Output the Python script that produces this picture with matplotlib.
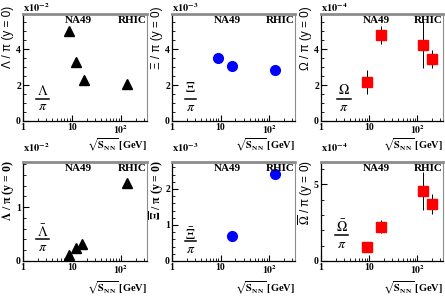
import numpy as np
import matplotlib
matplotlib.use("Agg")
import matplotlib.pyplot as plt
from matplotlib.ticker import FixedLocator, MultipleLocator, NullFormatter, FuncFormatter

plt.rcParams['mathtext.fontset'] = 'stix'
plt.rcParams['font.family'] = ['Liberation Serif', 'DejaVu Serif']

# ---- data (ratios at y = 0) ----
lam_x = [8.8, 12.3, 17.3, 130]
lam_y = [5.0, 3.3, 2.27, 2.05]            # x10^-2

xi_x = [8.8, 17.3, 130]
xi_y = [3.50, 3.08, 2.84]                 # x10^-3

om_x = [8.8, 17.3, 130, 200]
om_y = [2.19, 4.76, 4.22, 3.43]           # x10^-4
om_err = [0.67, 0.5, 1.27, 0.5]

alam_x = [8.8, 12.3, 16.0, 130]
alam_y = [0.11, 0.24, 0.31, 1.45]         # x10^-2

axi_x = [17.3, 130]
axi_y = [0.69, 2.41]                      # x10^-3

aom_x = [8.8, 17.3, 130, 200]
aom_y = [0.9, 2.24, 4.57, 3.7]            # x10^-4
aom_err = [0.25, 0.4, 1.24, 0.67]

W, H = 445, 296
fig = plt.figure(figsize=(W / 100, H / 100), dpi=100)

lefts = [23, 172, 321]
widths = [124, 123, 122]


def make_axes(col, top, bottom):
    ax = fig.add_axes([lefts[col] / W, 1 - bottom / H, widths[col] / W, (bottom - top) / H])
    ax.set_xscale('log')
    ax.set_xlim(1, 340)
    ax.xaxis.set_major_locator(FixedLocator([1, 10, 100]))
    ax.xaxis.set_minor_locator(FixedLocator([m * d for d in [1, 10, 100] for m in range(2, 10)]))
    ax.xaxis.set_minor_formatter(NullFormatter())
    ax.xaxis.set_major_formatter(FuncFormatter(
        lambda v, p: {1: '1', 10: '10', 100: r'$\mathbf{10^{2}}$'}.get(int(round(v)), '')))
    ax.tick_params(which='both', direction='in', top=False, right=False,
                   labelsize=7, pad=1.5)
    ax.tick_params(which='major', length=4, width=0.8)
    ax.tick_params(which='minor', length=2, width=0.6)
    ax.spines['top'].set_color('#8c8c8c')
    ax.spines['top'].set_linewidth(2)
    ax.spines['right'].set_color('#8c8c8c')
    ax.spines['right'].set_linewidth(0.8)
    ax.spines['left'].set_linewidth(0.9)
    ax.spines['bottom'].set_linewidth(0.9)
    ax.text(0.45, 0.935, 'NA49', transform=ax.transAxes, ha='center', va='center',
            fontsize=8, fontweight='bold')
    ax.text(0.995, 0.935, 'RHIC', transform=ax.transAxes, ha='right', va='center',
            fontsize=8, fontweight='bold')
    return ax


def fraction(ax, num, xc, ynum, ybar, yden, half=0.055):
    ax.text(xc, ynum, num, transform=ax.transAxes, ha='center', va='center', fontsize=10)
    ax.plot([xc - half, xc + half], [ybar, ybar], transform=ax.transAxes,
            color='black', lw=1.1)
    ax.text(xc, yden, r'$\pi$', transform=ax.transAxes, ha='center', va='center', fontsize=10)


def decorations(col, axtop, factor, ylabel, ybase_factor, ybase_xlabel, ylab_kw):
    x0 = lefts[col] / W
    fig.text(x0, ybase_factor, factor, ha='left', va='baseline', fontsize=7.5)
    fig.text((lefts[col] + widths[col]) / W, ybase_xlabel, r'$\mathbf{\sqrt{S_{NN}}}$ [GeV]',
             ha='right', va='baseline', fontsize=7.5, fontweight='bold')
    fig.text((lefts[col] - 15) / W, 1 - axtop / H, ylabel, rotation=90,
             ha='center', va='top', **ylab_kw)


sans = dict(family='Liberation Sans', fontsize=8.5)
serifb = dict(fontsize=8.5, fontweight='bold')

# ---- top row ----
top, bot = 14, 121
ax1 = make_axes(0, top, bot)
ax1.plot(lam_x, lam_y, '^', color='black', ms=6.5)
ax1.set_ylim(0, 5.95)
ax1.yaxis.set_major_locator(MultipleLocator(2))
ax1.yaxis.set_minor_locator(MultipleLocator(0.5))
fraction(ax1, r'$\Lambda$', 0.156, 0.283, 0.206, 0.134)

ax2 = make_axes(1, top, bot)
ax2.plot(xi_x, xi_y, 'o', color='#0000ff', ms=7)
ax2.set_ylim(0, 5.95)
ax2.yaxis.set_major_locator(MultipleLocator(2))
ax2.yaxis.set_minor_locator(MultipleLocator(0.5))
fraction(ax2, r'$\Xi$', 0.149, 0.306, 0.206, 0.128, half=0.045)

ax3 = make_axes(2, top, bot)
ax3.errorbar(om_x, om_y, yerr=om_err, fmt='s', color='#ff0000', ecolor='black',
             elinewidth=0.7, capsize=0, ms=7)
ax3.set_ylim(0, 5.95)
ax3.yaxis.set_major_locator(MultipleLocator(2))
ax3.yaxis.set_minor_locator(MultipleLocator(0.5))
fraction(ax3, r'$\Omega$', 0.19, 0.29, 0.203, 0.128)

for col, exp, lab in [(0, '-2', 'Λ / π (y = 0)'), (1, '-3', 'Ξ / π (y = 0)'),
                      (2, '-4', 'Ω / π (y = 0)')]:
    decorations(col, 6, r'$\mathbf{x10^{%s}}$' % exp, lab, 1 - 11.7 / H, 1 - 148.5 / H, sans)

# ---- bottom row ----
top, bot = 162, 261
ax4 = make_axes(0, top, bot)
ax4.plot(alam_x, alam_y, '^', color='black', ms=6.5)
ax4.set_ylim(0, 1.84)
ax4.yaxis.set_major_locator(MultipleLocator(1))
ax4.yaxis.set_minor_locator(MultipleLocator(0.2))
fraction(ax4, r'$\bar{\Lambda}$', 0.156, 0.30, 0.225, 0.138)

ax5 = make_axes(1, top, bot)
ax5.plot(axi_x, axi_y, 'o', color='#0000ff', ms=7)
ax5.set_ylim(0, 2.75)
ax5.yaxis.set_major_locator(MultipleLocator(1))
ax5.yaxis.set_minor_locator(MultipleLocator(0.2))
fraction(ax5, r'$\bar{\Xi}$', 0.152, 0.27, 0.2, 0.12, half=0.045)

ax6 = make_axes(2, top, bot)
ax6.errorbar(aom_x, aom_y, yerr=aom_err, fmt='s', color='#ff0000', ecolor='black',
             elinewidth=0.7, capsize=0, ms=7)
ax6.set_ylim(0, 6.45)
ax6.yaxis.set_major_locator(MultipleLocator(5))
ax6.yaxis.set_minor_locator(MultipleLocator(1))
fraction(ax6, r'$\bar{\Omega}$', 0.17, 0.345, 0.26, 0.165)

decorations(0, 160, r'$\mathbf{x10^{-2}}$', r'$\overline{\mathbf{\Lambda}}$ / π (y = 0)',
            1 - 152.5 / H, 1 - 291 / H, serifb)
decorations(1, 160, r'$\mathbf{x10^{-3}}$', r'$\overline{\mathbf{\Xi}}$ / π (y = 0)',
            1 - 152.5 / H, 1 - 291 / H, serifb)
decorations(2, 160, r'$\mathbf{x10^{-4}}$', r'$\overline{\Omega}$ / π (y = 0)',
            1 - 152.5 / H, 1 - 291 / H, sans)

for ax in [ax1, ax2, ax3, ax4, ax5, ax6]:
    for lab in ax.get_xticklabels() + ax.get_yticklabels():
        lab.set_fontweight('bold')

fig.savefig('out.png', dpi=100)
